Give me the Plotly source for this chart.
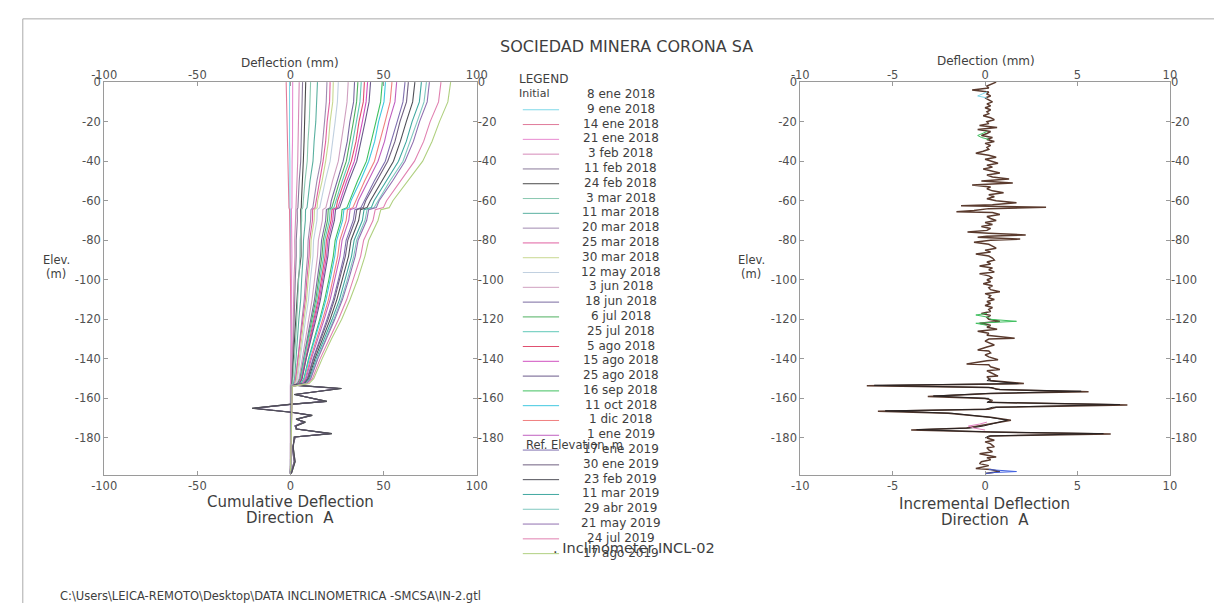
import plotly.graph_objects as go

W, H = 1225, 603

# ---------------- survey dates (first one is the initial reading) ----------------
survey_dates = [
    "8 ene 2018", "9 ene 2018", "14 ene 2018", "21 ene 2018", "3 feb 2018",
    "11 feb 2018", "24 feb 2018", "3 mar 2018", "11 mar 2018", "20 mar 2018",
    "25 mar 2018", "30 mar 2018", "12 may 2018", "3 jun 2018", "18 jun 2018",
    "6 jul 2018", "25 jul 2018", "5 ago 2018", "15 ago 2018", "25 ago 2018",
    "16 sep 2018", "11 oct 2018", "1 dic 2018", "1 ene 2019", "17 ene 2019",
    "30 ene 2019", "23 feb 2019", "11 mar 2019", "29 abr 2019", "21 may 2019",
    "24 jul 2019", "17 ago 2019",
]

series_colors = [
    "#7fd8e8", "#e07a9a", "#e88ad0", "#d68ab8", "#8a7a9a", "#4a4a4a",
    "#8ac8b0", "#5ab0a0", "#a08ab0", "#e060a0", "#c8d890", "#c0d0e0",
    "#d0a0c0", "#7a6aa0", "#50b060", "#60c8b8", "#e05070", "#d050c0",
    "#6a5a8a", "#40c060", "#40c8e0", "#f08080", "#c060c0", "#8070b0",
    "#706080", "#505058", "#40a8a0", "#80c8c0", "#9070b0", "#e080b0",
    "#b0d080",
]

# ---------------- cumulative deflection, direction A (mm) ----------------
elev_stations = [0, -10, -20, -30, -40, -50, -60, -63.5, -64.5, -70, -80, -88,
                 -100, -110, -120, -130, -140, -150, -152.5, -154, -198]

cum_defl = [
    [-0.5, -0.6, -0.4, -0.5, -0.3, -0.4, -0.2, -0.3, -0.1, 0.0, 0.2, 0.1, 0.3, 0.2, 0.4, 0.3, 0.2, 0.1, 0.1, 0.0, 0.0],
    [-2.3, -2.1, -1.9, -1.6, -1.4, -1.1, -0.9, -0.8, -0.5, -0.4, -0.2, 0.0, 0.2, 0.3, 0.5, 0.4, 0.3, 0.2, 0.1, 0.0, 0.0],
    [1.2, 1.3, 1.0, 1.1, 0.9, 1.0, 0.8, 0.8, 0.5, 0.6, 0.7, 0.8, 0.6, 0.7, 0.5, 0.6, 0.4, 0.3, 0.2, 0.0, 0.0],
    [4.7, 4.5, 4.5, 4.1, 3.9, 3.5, 3.0, 3.0, 2.6, 2.7, 2.3, 2.4, 1.9, 1.8, 1.5, 1.3, 0.9, 0.8, 0.5, 0.1, 0.0],
    [6.5, 6.3, 6.1, 5.6, 5.5, 4.7, 4.3, 4.0, 3.6, 3.7, 3.1, 3.1, 2.6, 2.5, 2.0, 1.7, 1.3, 1.0, 0.7, 0.1, 0.0],
    [8.2, 8.0, 7.8, 7.3, 6.9, 6.2, 5.9, 5.8, 5.5, 5.6, 5.5, 5.7, 4.2, 3.4, 2.7, 2.2, 1.6, 1.2, 0.9, 0.2, 0.0],
    [10.8, 10.5, 10.1, 9.4, 9.0, 7.8, 7.0, 6.6, 6.0, 6.0, 5.2, 5.1, 4.4, 4.1, 3.4, 2.8, 2.2, 1.5, 1.2, 0.1, 0.0],
    [14.5, 14.2, 13.6, 12.7, 12.1, 10.5, 9.4, 8.9, 8.1, 8.0, 7.0, 6.8, 6.0, 5.5, 4.5, 3.8, 2.8, 2.2, 1.6, 0.2, 0.0],
    [19.6, 19.2, 18.3, 17.1, 16.3, 14.2, 12.6, 12.0, 11.0, 10.8, 9.5, 9.2, 8.1, 7.4, 6.2, 5.1, 3.8, 2.9, 2.2, 0.2, 0.0],
    [21.3, 21.0, 19.7, 18.9, 17.5, 15.7, 13.5, 13.2, 11.9, 11.8, 10.3, 10.0, 8.8, 8.0, 6.7, 5.5, 4.1, 3.1, 2.4, 0.3, 0.0],
    [23.0, 22.7, 21.3, 20.4, 18.9, 17.0, 14.6, 14.3, 12.9, 12.7, 11.1, 10.8, 9.5, 8.7, 7.3, 6.0, 4.5, 3.4, 2.6, 0.3, 0.0],
    [25.7, 25.2, 24.0, 22.6, 21.3, 18.7, 16.5, 15.7, 14.4, 14.2, 12.4, 12.1, 10.7, 9.7, 8.1, 6.7, 5.0, 3.8, 2.9, 0.3, 0.0],
    [31.0, 30.4, 28.9, 27.3, 25.7, 22.6, 19.9, 19.0, 17.4, 17.1, 15.0, 14.5, 12.9, 11.6, 9.8, 8.0, 6.0, 4.6, 3.5, 0.4, 0.0],
    [34.4, 33.9, 31.9, 30.5, 28.3, 25.3, 21.9, 21.3, 19.3, 18.9, 16.7, 16.1, 14.3, 12.9, 10.9, 8.9, 6.7, 5.1, 3.9, 0.4, 0.0],
    [36.2, 35.5, 33.8, 31.9, 30.0, 26.4, 23.3, 22.2, 20.3, 19.9, 17.6, 16.9, 15.1, 13.6, 11.5, 9.4, 7.1, 5.3, 4.1, 0.4, 0.0],
    [38.0, 37.3, 35.4, 33.5, 31.5, 27.8, 24.4, 23.3, 21.3, 20.9, 18.4, 17.8, 15.8, 14.2, 12.1, 9.8, 7.4, 5.6, 4.3, 0.5, 0.0],
    [39.7, 39.1, 36.8, 35.2, 32.7, 29.2, 25.3, 24.6, 22.3, 21.8, 19.3, 18.6, 16.5, 14.9, 12.6, 10.3, 7.8, 5.9, 4.5, 0.5, 0.0],
    [41.4, 40.6, 38.6, 36.5, 34.3, 30.2, 26.6, 25.4, 23.2, 22.7, 20.1, 19.4, 17.2, 15.5, 13.1, 10.7, 8.1, 6.1, 4.7, 0.5, 0.0],
    [43.0, 42.2, 40.1, 37.9, 35.6, 31.4, 27.6, 26.4, 24.2, 23.6, 20.9, 20.1, 17.9, 16.1, 13.7, 11.1, 8.4, 6.3, 4.9, 0.5, 0.0],
    [49.3, 48.4, 45.9, 43.5, 40.8, 36.0, 31.7, 30.3, 27.7, 27.1, 24.0, 23.0, 20.6, 18.4, 15.7, 12.7, 9.7, 7.2, 5.6, 0.6, 0.0],
    [51.0, 50.2, 47.3, 45.2, 42.0, 37.5, 32.5, 31.5, 28.7, 28.0, 24.8, 23.8, 21.3, 19.1, 16.2, 13.2, 10.0, 7.5, 5.8, 0.6, 0.0],
    [54.5, 53.5, 50.8, 48.1, 45.1, 39.8, 35.0, 33.5, 30.6, 29.9, 26.5, 25.4, 22.7, 20.4, 17.3, 14.1, 10.7, 8.0, 6.2, 0.7, 0.0],
    [57.0, 56.1, 52.9, 50.5, 47.0, 41.9, 36.4, 35.2, 32.0, 31.3, 27.7, 26.6, 23.8, 21.3, 18.1, 14.7, 11.2, 8.4, 6.5, 0.7, 0.0],
    [61.5, 60.4, 57.3, 54.3, 50.9, 45.0, 39.5, 37.8, 34.6, 33.7, 29.9, 28.7, 25.7, 23.0, 19.6, 15.8, 12.1, 9.0, 7.0, 0.7, 0.0],
    [63.3, 62.3, 58.8, 56.1, 52.2, 46.5, 40.4, 39.1, 35.6, 34.7, 30.8, 29.5, 26.4, 23.6, 20.2, 16.3, 12.4, 9.3, 7.2, 0.8, 0.0],
    [66.8, 65.6, 62.2, 59.0, 55.3, 48.9, 42.9, 41.1, 37.6, 36.6, 32.5, 31.2, 27.9, 24.9, 21.3, 17.2, 13.1, 9.8, 7.6, 0.8, 0.0],
    [70.3, 69.2, 65.3, 62.2, 58.0, 51.6, 44.9, 43.4, 39.5, 38.6, 34.2, 32.8, 29.4, 26.3, 22.4, 18.1, 13.8, 10.3, 8.1, 0.8, 0.0],
    [73.0, 71.7, 68.0, 64.4, 60.4, 53.4, 46.8, 44.9, 41.1, 40.0, 35.5, 34.0, 30.5, 27.3, 23.3, 18.8, 14.4, 10.7, 8.4, 0.9, 0.0],
    [74.6, 73.4, 69.3, 66.0, 61.5, 54.8, 47.6, 46.1, 42.0, 40.9, 36.3, 34.8, 31.2, 27.9, 23.8, 19.2, 14.7, 10.9, 8.6, 0.9, 0.0],
    [80.8, 79.5, 75.0, 71.5, 66.6, 59.3, 51.6, 49.9, 45.5, 44.3, 39.3, 37.7, 33.8, 30.2, 25.8, 20.8, 15.9, 11.8, 9.3, 1.0, 0.0],
    [86.0, 84.5, 80.0, 76.0, 71.0, 63.0, 55.0, 53.0, 48.5, 47.0, 42.0, 40.0, 36.0, 32.0, 27.5, 22.0, 17.0, 12.5, 10.0, 1.0, 0.0],
]

# lower-zone profiles of the surveys that show the excursion between -153 and -180 m
wiggle_elev = [-153.3, -155, -158, -161.5, -163, -165, -167, -168.6, -170.5,
               -172, -174, -175.5, -177.8, -179.5, -185, -192, -198]
wiggle_a = [2.0, 27.4, 2.0, 19.6, -0.5, -20.6, 0.3, 11.7, 3.0, 8.0, 3.0, 3.0,
            22.2, 2.0, 1.5, 2.5, 0.5]
wiggle_b = [1.5, 26.0, 2.8, 18.6, 0.2, -19.5, 0.8, 10.9, 3.6, 7.2, 2.4, 3.6,
            21.0, 2.6, 1.0, 2.0, 0.2]
wiggle_surveys = {"24 feb 2018": wiggle_a, "25 ago 2018": wiggle_b,
                  "30 ene 2019": wiggle_b, "23 feb 2019": wiggle_a}

# ---------------- incremental deflection, direction A (mm) ----------------
incr_elev = [0, -1, -2, -3, -4, -5, -6, -7, -8, -9, -10, -11, -12, -13, -14, -15,
             -16, -17, -18, -19, -20, -21, -22, -23, -24, -25, -26, -27, -28, -29,
             -30, -31, -32, -33, -34, -35, -36, -37, -38, -39, -40, -41, -42, -43,
             -44, -45, -46, -47, -48, -49, -50, -51, -52, -53, -54, -55, -56, -57,
             -58, -59, -60, -61, -62, -62.6, -63.3, -64, -65, -65.6, -66, -67, -68,
             -69, -70, -71, -72, -73, -74, -75, -75.8, -76.5, -77.3, -78, -78.5,
             -79.4, -80, -81, -82, -83, -84, -85, -86, -87, -88, -89, -90, -91, -92,
             -93, -94, -95, -96, -97, -98, -99, -100, -101, -102, -103, -104, -105,
             -106, -107, -108, -109, -110, -111, -112, -113, -114, -115, -116, -117,
             -118, -119, -120, -121, -122, -123, -124, -125, -126, -127, -128, -129.6,
             -130, -131, -132, -133, -134, -135.5, -136, -137, -138, -139, -140.4,
             -141, -142.6, -143, -144, -145.4, -146, -147, -148.7, -149, -150, -151,
             -152.5, -153.6, -154.5, -155.5, -156.6, -157.5, -159, -160, -161, -162,
             -163.3, -164.5, -165.5, -166.5, -167.5, -168.5, -169.5, -171, -172.5,
             -174, -175, -176, -177, -178, -179, -180, -181.2, -182, -183, -184.5,
             -185, -186, -187, -188, -189.6, -190, -191, -192, -193, -194, -195.5,
             -196, -197, -198]
incr_defl = [0.6, 0.3, 0.1, 0.2, -0.7, 0.2, 0.1, 0.3, 0.0, 0.2, 0.4, 0.1, 0.3, 0.0,
             0.3, 0.1, 0.2, -0.1, 0.3, 0.5, 0.1, 0.2, -0.3, 0.65, -0.4, 0.3, 0.1,
             -0.2, 0.4, 0.1, 0.5, 0.0, 0.3, 0.1, 0.2, -0.1, -0.5, 0.2, 0.6, 0.0, 0.3,
             0.7, 0.1, 0.4, -0.1, 0.3, 0.8, 0.1, 0.4, 1.3, -0.2, 1.5, -0.7, 0.3, 0.1,
             0.4, 1.0, 0.2, 0.5, 0.1, 0.6, 1.7, 0.4, -1.3, 3.3, 0.2, -0.6, -1.55, 0.4,
             0.8, 0.1, 0.3, 0.6, 0.0, 0.4, -0.2, 0.3, 0.1, -0.95, 0.2, 2.2, 0.1, -0.4,
             1.9, 0.3, -0.6, 0.2, 0.4, 0.6, 0.0, 0.3, -0.5, 0.2, 0.4, 0.5, 0.1, 0.3,
             -0.3, 0.4, 0.2, 0.5, -0.3, 0.2, 0.4, 0.1, 0.3, -0.1, 0.4, 0.2, 0.3, 0.8,
             0.0, 0.3, 0.2, 0.5, 0.1, 0.3, 0.0, 0.4, 0.2, 0.3, -0.2, 0.3, 0.1, 0.2,
             0.8, -0.3, 0.3, 0.1, 0.65, -0.4, 0.2, 0.1, 1.6, 0.2, 0.0, 0.3, 0.5, 0.1,
             -0.4, 0.2, 0.3, 0.0, 0.2, 0.7, 0.1, -1.0, 0.2, 0.3, 0.8, 0.1, 0.3, 0.7,
             0.1, 0.2, 0.3, 2.1, -6.4, 0.2, 0.8, 5.6, 0.3, -3.1, 0.0, 0.4, 0.2, 7.7,
             0.6, 0.2, -5.8, -2.0, -0.8, 0.3, 1.4, 0.5, -0.2, -1.0, -4.0, 0.4, 6.8,
             0.3, 0.1, 0.5, 0.0, 0.3, 0.5, 0.1, 0.2, 0.4, -0.3, 0.6, 0.1, 0.3, -0.2,
             -0.3, 0.2, -0.5, 0.3, 0.8, 0.0]

# companion survey across the disturbed zone
incr_alt_elev = [-150, -151, -152.5, -153.4, -154.5, -155.5, -156.4, -157.5, -158.8,
                 -160, -161, -162, -163.1, -164.5, -165.5, -166.3, -167.5, -168.5,
                 -169.5, -171, -172.5, -174, -175, -175.8, -177, -177.8, -179, -180]
incr_alt_defl = [0.3, 0.1, 1.8, -6.0, 0.4, 0.6, 5.2, 0.1, -2.8, 0.2, 0.3, 0.1, 7.3,
                 0.4, 0.0, -5.4, -1.8, -0.6, 0.2, 1.2, 0.6, -0.1, -0.8, -3.7, 0.3,
                 6.4, 0.2, 0.0]

# short coloured traces visible outside the overlapping bundle
accent_elev = [[-5, -6, -7, -8],
               [-25, -26, -27, -28, -29],
               [-117, -117.8, -119, -120, -121, -122, -123],
               [-172, -173, -174, -175, -176],
               [-196, -197, -197.5, -198]]
accent_defl = [[0.1, -0.2, -0.4, 0.1],
               [0.1, -0.2, -0.4, -0.2, 0.2],
               [0.1, -0.5, 0.2, 0.3, 1.7, -0.5, 0.1],
               [0.1, -0.3, -0.9, -0.6, 0.0],
               [0.2, 1.7, 0.5, 0.0]]
accent_colors = ["#7fd8e8", "#40c060", "#40c060", "#e080c0", "#4060e0"]

# ---------------- axis ticks ----------------
cum_ticks = [-100, -50, 0, 50, 100]
cum_ticktext = ["-100", "-50", "0", "50", "100"]
inc_ticks = [-10, -5, 0, 5, 10]
inc_ticktext = ["-10", "-5", "0", "5", "10"]
elev_ticks = [0, -20, -40, -60, -80, -100, -120, -140, -160, -180]
elev_ticktext = ["0", "-20", "-40", "-60", "-80", "-100", "-120", "-140", "-160", "-180"]

FONT = "DejaVu Sans"
TXT = "#3e3e3e"
AX = "#9a9a9a"


def px(x):
    return x / W


def py(y):
    return 1 - y / H


fig = go.Figure()

# cumulative profiles
for name, vals, col in zip(survey_dates[1:], cum_defl, series_colors):
    xs, ys = list(vals), list(elev_stations)
    if name in wiggle_surveys:
        xs = xs[:19] + wiggle_surveys[name]
        ys = ys[:19] + wiggle_elev
    fig.add_trace(go.Scatter(x=xs, y=ys, mode="lines", name=name,
                             line=dict(color=col, width=1.1),
                             xaxis="x", yaxis="y", showlegend=False))

# incremental profiles
fig.add_trace(go.Scatter(x=incr_defl, y=incr_elev, mode="lines",
                         line=dict(color="#5b3b2e", width=1.5),
                         xaxis="x2", yaxis="y2", showlegend=False))
fig.add_trace(go.Scatter(x=incr_alt_defl, y=incr_alt_elev, mode="lines",
                         line=dict(color="#2a2424", width=1.0),
                         xaxis="x2", yaxis="y2", showlegend=False))
for ex, dx, col in zip(accent_elev, accent_defl, accent_colors):
    fig.add_trace(go.Scatter(x=dx, y=ex, mode="lines", line=dict(color=col, width=1),
                             xaxis="x2", yaxis="y2", showlegend=False))

# empty traces that carry the mirrored (top / right) label axes
for xa, ya in (("x3", "y3"), ("x4", "y4")):
    fig.add_trace(go.Scatter(x=[None], y=[None], mode="lines", xaxis=xa, yaxis=ya,
                             showlegend=False, hoverinfo="skip"))

dom_y = [py(474), py(76)]
dom_l = [px(93), px(473)]
dom_r = [px(803), px(1180)]

tickfont = dict(family=FONT, size=11.5, color="#505050")
common = dict(showgrid=False, zeroline=False, ticks="inside", ticklen=4,
              tickcolor=AX, tickfont=tickfont, fixedrange=True)

fig.update_layout(
    width=W, height=H,
    margin=dict(l=0, r=0, t=0, b=0),
    paper_bgcolor="white", plot_bgcolor="white",
    showlegend=False,
    xaxis=dict(domain=dom_l, range=[-100, 100], anchor="y", tickvals=cum_ticks,
               ticktext=cum_ticktext, showline=True, linecolor=AX, mirror=True, **common),
    yaxis=dict(domain=dom_y, range=[-199, 0], anchor="x", tickvals=elev_ticks,
               ticktext=elev_ticktext, showline=True, linecolor=AX, mirror=True, **common),
    xaxis3=dict(overlaying="x", side="top", anchor="y3", range=[-100, 100],
                tickvals=cum_ticks, ticktext=cum_ticktext, showline=False, **common),
    yaxis3=dict(overlaying="y", side="right", anchor="x3", range=[-199, 0],
                tickvals=elev_ticks, ticktext=elev_ticktext, showline=False, **common),
    xaxis2=dict(domain=dom_r, range=[-10, 10], anchor="y2", tickvals=inc_ticks,
                ticktext=inc_ticktext, showline=True, linecolor=AX, mirror=True, **common),
    yaxis2=dict(domain=dom_y, range=[-199, 0], anchor="x2", tickvals=elev_ticks,
                ticktext=elev_ticktext, showline=True, linecolor=AX, mirror=True, **common),
    xaxis4=dict(overlaying="x2", side="top", anchor="y4", range=[-10, 10],
                tickvals=inc_ticks, ticktext=inc_ticktext, showline=False, **common),
    yaxis4=dict(overlaying="y2", side="right", anchor="x4", range=[-199, 0],
                tickvals=elev_ticks, ticktext=elev_ticktext, showline=False, **common),
)

ann = []


def text(x, y, s, size=11, xanchor="center", color=TXT):
    ann.append(dict(x=px(x), y=py(y), xref="paper", yref="paper", text=s,
                    showarrow=False, xanchor=xanchor, yanchor="middle",
                    font=dict(family=FONT, size=size, color=color)))


text(626, 40, "SOCIEDAD MINERA CORONA SA", size=16)
text(283, 57, "Deflection (mm)", size=12)
text(992, 55, "Deflection (mm)", size=12)
text(44, 256, "Elev.", size=11.5)
text(44, 270, "(m)", size=11.5)
text(753, 256, "Elev.", size=11.5)
text(753, 270, "(m)", size=11.5)
text(283, 501, "Cumulative Deflection", size=15)
text(283, 517, "Direction\u00a0 A", size=15)
text(991, 503, "Incremental Deflection", size=15)
text(991, 519, "Direction\u00a0 A", size=15)
text(46, 596, "C:\\Users\\LEICA-REMOTO\\Desktop\\DATA INCLINOMETRICA -SMCSA\\IN-2.gtl",
     size=11.5, xanchor="left")

# legend block
text(514, 73, "LEGEND", size=12, xanchor="left")
text(514, 88, "Initial", size=11, xanchor="left")
row0, row_step = 88, 14.97
shapes = []
for i, name in enumerate(survey_dates):
    yy = row0 + i * row_step
    text(620, yy, name, size=12)
    if i > 0:
        shapes.append(dict(type="line", xref="paper", yref="paper",
                           x0=px(520), x1=px(557), y0=py(yy + 1), y1=py(yy + 1),
                           line=dict(color=series_colors[i - 1], width=1)))
text(521, 443, "Ref. Elevation, m", size=11.5, xanchor="left")
text(549, 547, ". Inclinometer INCL-02", size=14.5, xanchor="left")

# page frame
shapes.append(dict(type="line", xref="paper", yref="paper", x0=px(10), x1=1,
                   y0=py(12), y1=py(12), line=dict(color="#aaaaaa", width=1)))
shapes.append(dict(type="line", xref="paper", yref="paper", x0=px(10), x1=px(10),
                   y0=py(12), y1=0, line=dict(color="#aaaaaa", width=1)))

fig.update_layout(annotations=ann, shapes=shapes)

fig.write_html("out.html")
